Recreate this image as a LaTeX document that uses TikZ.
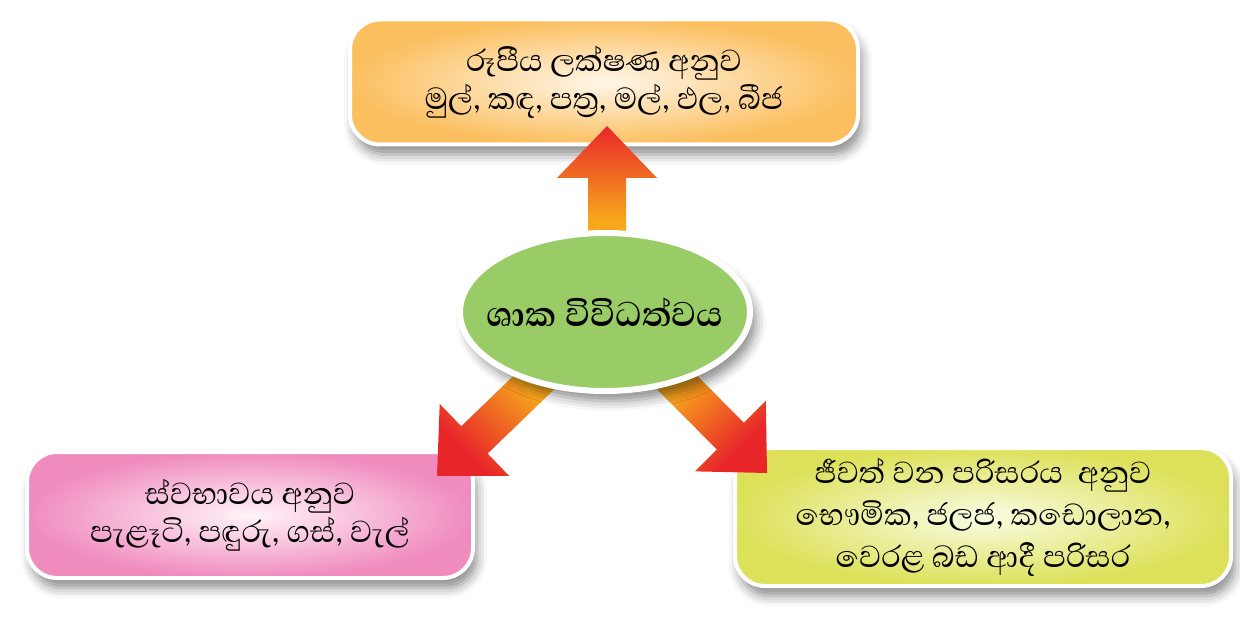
\documentclass[tikz,border=0pt]{standalone}
\usepackage{fontspec}
\newfontfamily\sinhala[Script=Sinhala]{Abhaya Libre}
\usetikzlibrary{shapes.geometric,shadows.blur,calc}

\definecolor{formedge}{HTML}{FBBF5F}
\definecolor{formmid}{HTML}{FFF6E9}
\definecolor{habitedge}{HTML}{F08BBE}
\definecolor{habitmid}{HTML}{FFF4F9}
\definecolor{placeedge}{HTML}{DCE159}
\definecolor{placemid}{HTML}{FAFCE4}
\definecolor{hubgreen}{HTML}{99CC66}
\definecolor{arrowred}{HTML}{E8262A}
\definecolor{arrowmid}{HTML}{F7A61C}
\definecolor{arrowtail}{HTML}{F9B61A}

\tikzset{
    box/.style={draw=white, line width=2pt, rounded corners=15pt, align=center,
        shading=radial, blur shadow={shadow xshift=2pt, shadow yshift=-5pt,
        shadow blur radius=5pt, shadow opacity=45}},
    hub ellipse/.style={ellipse, draw=white, line width=3pt, fill=hubgreen,
        inner sep=0pt, minimum width=145pt, minimum height=79pt,
        font=\sinhala\bfseries\fontsize{22}{24}\selectfont,
        blur shadow={shadow xshift=3pt, shadow yshift=-5pt,
        shadow blur radius=5pt, shadow opacity=45}},
    arrow fill/.style={shading=axis, top color=arrowred, bottom color=arrowtail,
        middle color=arrowmid, shading angle=#1}
}

\newcommand{\blockarrow}[3]{%
    \path[arrow fill=#1] ($(#2)!9.5pt!90:(#3)$)
        -- ($(#3)!26pt!(#2)!9.5pt!90:(#3)$)
        -- ($(#3)!26pt!(#2)!25pt!90:(#3)$)
        -- (#3)
        -- ($(#3)!26pt!(#2)!25pt!-90:(#3)$)
        -- ($(#3)!26pt!(#2)!9.5pt!-90:(#3)$)
        -- ($(#2)!9.5pt!-90:(#3)$) -- cycle;}

\begin{document}
\begin{tikzpicture}[x=0.5pt, y=-0.5pt, font=\sinhala\fontsize{19.5}{19}\selectfont]
    \useasboundingbox (0,0) rectangle (1240,620);

    \node[box, inner color=formmid, outer color=formedge,
        minimum width=254pt, minimum height=62.5pt] (form) at (604,82)
        {රූපීය ලක්ෂණ අනුව\\මුල්, කඳ, පත්^^^^200dර, මල්, ඵල, බීජ};
    \node[box, inner color=habitmid, outer color=habitedge,
        minimum width=223pt, minimum height=63pt] (habit) at (250,515)
        {ස්වභාවය අනුව\\පැළෑටි, පඳුරු, ගස්, වැල්};
    \node[box, inner color=placemid, outer color=placeedge,
        minimum width=248pt, minimum height=69pt] (place) at (983,517)
        {ජීවත් වන පරිසරය~~අනුව\\[2pt]භෞමික, ජලජ, කඩොලාන,\\[2pt]වෙරළ බඩ ආදී පරිසර};

    \coordinate (hub) at (607,312);
    \coordinate (form tip) at (607,126);
    \coordinate (habit tip) at (437,476);
    \coordinate (place tip) at (767,473);

    \blockarrow{0}{hub}{form tip}
    \blockarrow{135}{hub}{habit tip}
    \blockarrow{-135}{hub}{place tip}

    \node[hub ellipse] (diversity) at (605,312) {\makebox[0pt]{ශාක විවිධත්වය}};
\end{tikzpicture}
\end{document}
